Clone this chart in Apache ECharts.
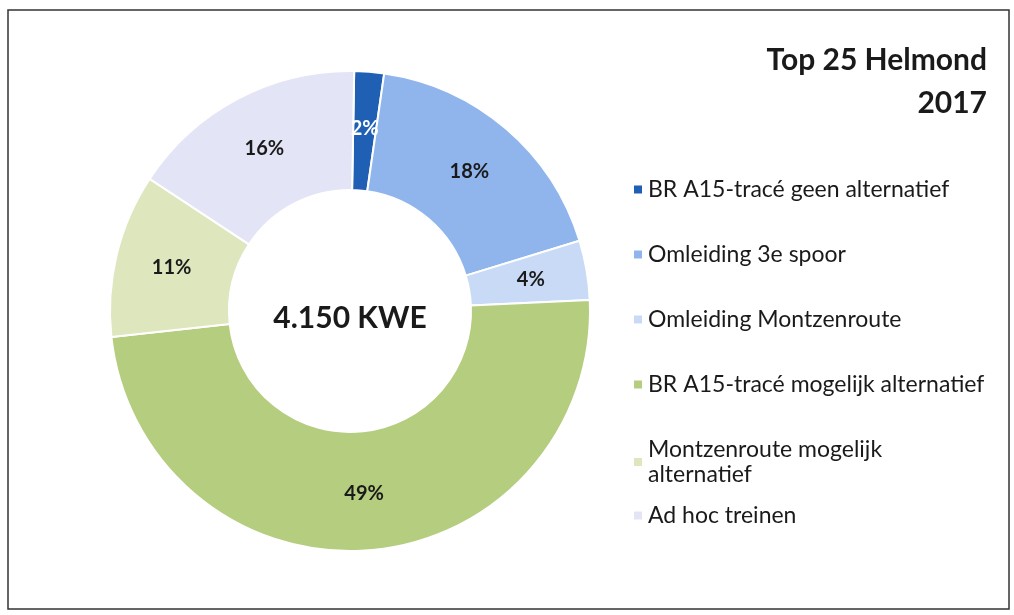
<!DOCTYPE html>
<html>
<head>
<meta charset="utf-8">
<script src="https://cdn.jsdelivr.net/npm/echarts@6/dist/echarts.min.js"></script>
<style>
  html, body { margin: 0; padding: 0; background: #fff; }
  #myChart { width: 1014px; height: 615px; }
</style>
</head>
<body>
<div id="myChart"></div>
<script>
  // categories and values (percent share)
  const categories = [
    'BR A15-tracé geen alternatief',
    'Omleiding 3e spoor',
    'Omleiding Montzenroute',
    'BR A15-tracé mogelijk alternatief',
    'Montzenroute mogelijk\nalternatief',
    'Ad hoc treinen'
  ];
  const shares = [2, 18, 4, 49, 11, 16];
  const colors = ['#1f5fb4', '#8fb5ec', '#c8daf6', '#b5cd7e', '#dde6bd', '#e3e4f5'];
  const totalLabel = '4.150 KWE';
  const titleLines = ['Top 25 Helmond', '2017'];

  const font = 'Lato, "Open Sans", sans-serif';

  let myChart = echarts.init(document.getElementById('myChart'));

  const legendBase = {
    orient: 'vertical',
    left: 627,
    itemWidth: 10,
    itemHeight: 10,
    icon: 'rect',
    textStyle: {
      fontSize: 23,
      color: '#1a1a1a',
      lineHeight: 25,
      fontFamily: font
    }
  };

  let option = {
    backgroundColor: '#fff',
    textStyle: { fontFamily: font },
    legend: [
      Object.assign({}, legendBase, { top: 172, itemGap: 40, data: categories.slice(0, 5) }),
      Object.assign({}, legendBase, { top: 498, data: categories.slice(5) })
    ],
    graphic: [
      {
        type: 'rect',
        shape: { x: 8, y: 10, width: 1001, height: 599 },
        style: { fill: 'none', stroke: '#333', lineWidth: 1.5 }
      },
      {
        type: 'text',
        x: 987, y: 60,
        style: {
          text: titleLines[0],
          align: 'right',
          verticalAlign: 'middle',
          fontSize: 30,
          fontWeight: 'bold',
          fill: '#1a1a1a',
          fontFamily: font
        }
      },
      {
        type: 'text',
        x: 987, y: 103,
        style: {
          text: titleLines[1],
          align: 'right',
          verticalAlign: 'middle',
          fontSize: 30,
          fontWeight: 'bold',
          fill: '#1a1a1a',
          fontFamily: font
        }
      },
      {
        type: 'text',
        x: 350, y: 318,
        style: {
          text: totalLabel,
          align: 'center',
          verticalAlign: 'middle',
          fontSize: 30,
          fontWeight: 'bold',
          fill: '#1a1a1a',
          fontFamily: font
        }
      }
    ],
    series: [
      {
        type: 'pie',
        center: [350, 311],
        radius: [121, 240],
        startAngle: 89,
        clockwise: true,
        avoidLabelOverlap: false,
        silent: true,
        itemStyle: { borderColor: '#fff', borderWidth: 2 },
        label: {
          show: true,
          position: 'inside',
          formatter: '{c}%',
          fontSize: 20,
          fontWeight: 'bold',
          color: '#1a1a1a',
          fontFamily: font
        },
        labelLine: { show: false },
        data: categories.map((name, i) => ({
          name: name,
          value: shares[i],
          itemStyle: { color: colors[i] },
          label: i === 0 ? { color: '#fff' } : undefined
        }))
      }
    ]
  };

  myChart.setOption(option);
</script>
</body>
</html>
